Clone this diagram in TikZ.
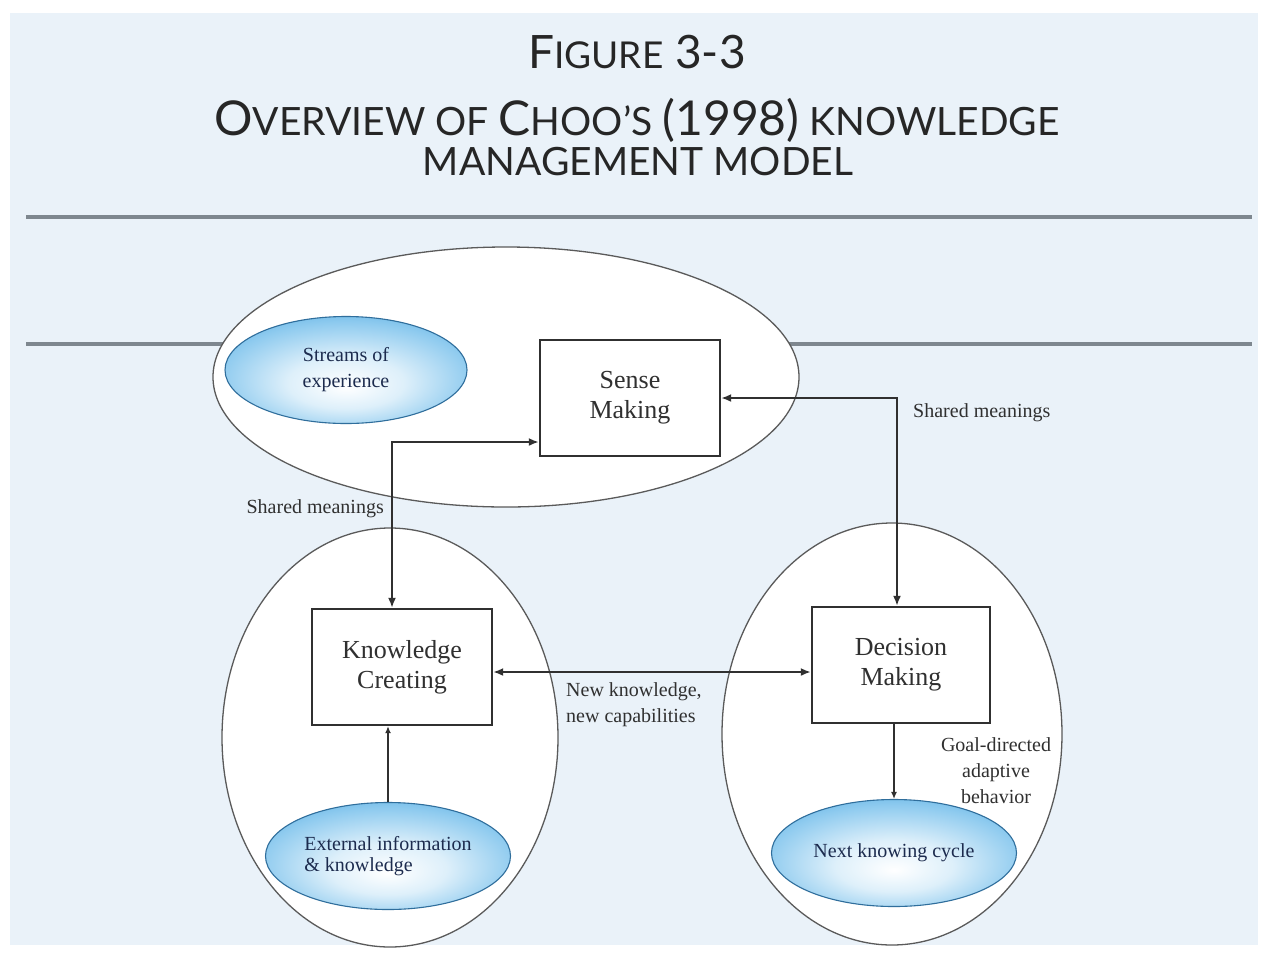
\documentclass[tikz,border=0pt]{standalone}
\usepackage{fontspec}
\setmainfont{Liberation Serif}
\newfontfamily\titlefont{Lato}
\usetikzlibrary{shapes.geometric,arrows.meta}

\definecolor{pagebg}{HTML}{EAF2F9}
\definecolor{rulegray}{HTML}{7E878F}
\definecolor{inkgray}{HTML}{303030}
\definecolor{realmgray}{HTML}{5A5A5A}
\definecolor{glowblue}{HTML}{3C9DDB}
\definecolor{midblue}{HTML}{8FCBEF}
\definecolor{edgeblue}{HTML}{2F6E9C}
\definecolor{navytext}{HTML}{1C2B4E}

% light pool in the lower middle, saturated blue towards the rim
\pgfdeclareradialshading{bluepool}{\pgfpoint{0bp}{-8bp}}{%
  color(0bp)=(white);
  color(12bp)=(white!70!midblue);
  color(26bp)=(midblue);
  color(40bp)=(glowblue);
  color(50bp)=(glowblue)}

% fake small caps for the heading
\newcommand\HeadCap[1]{{\fontsize{48}{48}\selectfont #1}}
\newcommand\HeadSml[1]{{\fontsize{39}{39}\selectfont #1}}

\begin{document}
\begin{tikzpicture}[x=1pt,y=-1pt,
  realm/.style={ellipse, draw=realmgray, line width=1.3pt, fill=white, inner sep=0pt},
  pool/.style={ellipse, draw=edgeblue, line width=1.1pt, shading=bluepool,
    inner sep=0pt, font=\fontsize{20}{21}\selectfont, text=navytext, align=center},
  stagebox/.style={draw=inkgray, line width=2.3pt, fill=white,
    minimum width=180pt, minimum height=116pt, inner sep=0pt, align=center,
    font=\fontsize{26}{30}\selectfont, text=inkgray},
  flowlabel/.style={inner sep=0pt, font=\fontsize{20}{26}\selectfont, text=inkgray},
  flow/.style={draw=inkgray, line width=2.5pt},
  twoway/.style={{Latex[length=10pt,width=8pt]}-{Latex[length=10pt,width=8pt]}},
  oneway/.style={-{Latex[length=7pt,width=6pt]}},
  heading/.style={inner sep=0pt, text=black!85, font=\titlefont}
]
\useasboundingbox (0,0) rectangle (1261,962);
\fill[white] (0,0) rectangle (1261,962);
\fill[pagebg] (10,13) rectangle (1258,945);

% heading
\node[heading, anchor=base] (figno) at (637,68)
  {{\fontsize{46}{46}\selectfont F}{\fontsize{37}{37}\selectfont IGURE}{\fontsize{46}{46}\selectfont{} 3-3}};
\node[heading, anchor=base] (title1) at (637,135)
  {\HeadCap{O}\HeadSml{VERVIEW OF }\HeadCap{C}\HeadSml{HOO’S }\HeadCap{(1998)}\HeadSml{ KNOWLEDGE}};
\node[heading, anchor=base] (title2) at (638,175) {\HeadSml{MANAGEMENT MODEL}};

% horizontal rules
\draw[rulegray, line width=4pt] (26,217) -- (1252,217);
\draw[rulegray, line width=4pt] (26,344) -- (1252,344);

% the three realms
\node[realm, minimum width=586pt, minimum height=260pt] (senserealm) at (506,377) {};
\node[realm, minimum width=336pt, minimum height=419pt] (createrealm) at (390,737.5) {};
\node[realm, minimum width=340pt, minimum height=422pt] (deciderealm) at (892,734) {};

% inputs and outputs
\node[pool, minimum width=242pt, minimum height=107pt, font=\fontsize{20}{26}\selectfont]
  (streams) at (346,370) {Streams of\\experience};
\node[pool, minimum width=245pt, minimum height=107pt, align=left] (external) at (388,856)
  {External information\\\& knowledge};
\node[pool, minimum width=245pt, minimum height=107pt] (nextcycle) at (894,853) {Next knowing cycle};

% processes
\node[stagebox] (sense) at (630,398) {Sense\\Making};
\node[stagebox] (create) at (402,667) {Knowledge\\Creating};
\node[stagebox, minimum width=178pt] (decide) at (901,665) {Decision\\Making};

% flows
\draw[flow, twoway] ([yshift=-44pt]sense.west) -| ([xshift=-10pt]create.north);
\draw[flow, twoway] (sense.east) -| ([xshift=-4pt]decide.north);
\draw[flow, twoway] ([yshift=-5pt]create.east) -- ([yshift=-5pt]create.east -| decide.west);
\draw[flow, oneway] (external.north) -- (external.north |- create.south);
\draw[flow, oneway] (decide.south -| nextcycle.north) -- (nextcycle.north);

% flow labels
\node[flowlabel, anchor=base west] (sharedright) at (913,417) {Shared meanings};
\node[flowlabel, anchor=base east] (sharedleft) at (384,513) {Shared meanings};
\node[flowlabel, anchor=west, align=left] (newcap) at (566,705) {New knowledge,\\new capabilities};
\node[flowlabel, align=center] (goal) at (996,771) {Goal-directed\\adaptive\\behavior};
\end{tikzpicture}
\end{document}
